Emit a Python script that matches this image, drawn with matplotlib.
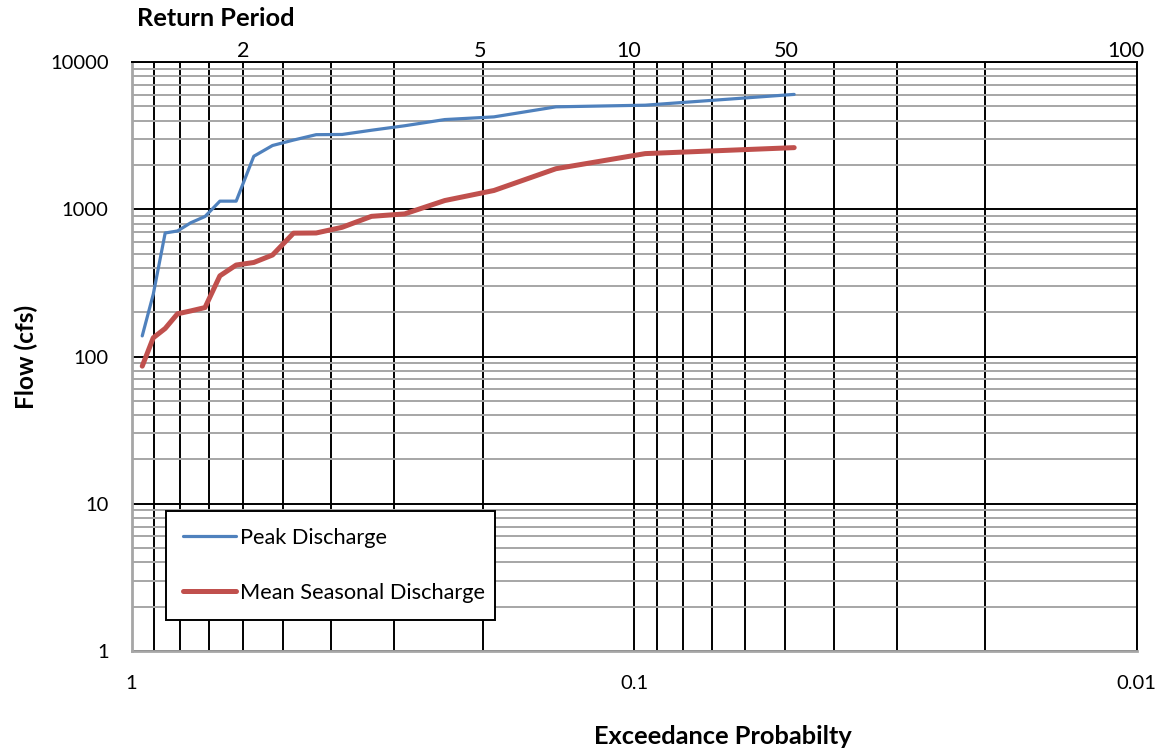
import matplotlib
matplotlib.use("Agg")
import matplotlib.pyplot as plt
import matplotlib.transforms as mtransforms
from matplotlib.ticker import LogLocator, NullFormatter, FixedLocator, FixedFormatter

# ---- data ----
exceed_prob = [0.952, 0.905, 0.857, 0.810, 0.762, 0.714, 0.667, 0.619, 0.571, 0.524,
               0.476, 0.429, 0.381, 0.333, 0.286, 0.238, 0.190, 0.143, 0.095, 0.048]
peak_discharge = [138, 265, 690, 712, 810, 893, 1135, 1135, 2290, 2710,
                  2950, 3210, 3220, 3440, 3690, 4065, 4240, 4960, 5090, 6025]
mean_seasonal = [86, 134, 155, 195, 204, 215, 353, 418, 435, 489,
                 688, 690, 754, 895, 930, 1146, 1341, 1885, 2387, 2621]
series_names = ["Peak Discharge", "Mean Seasonal Discharge"]
x_tick_vals = [1, 0.1, 0.01]
x_tick_labels = ["1", "0.1", "0.01"]
y_tick_vals = [1, 10, 100, 1000, 10000]
y_tick_labels = ["1", "10", "100", "1000", "10000"]
rp_labels = ["2", "5", "10", "50", "100"]
rp_pos = [0.599, 0.2025, 0.1023, 0.0497, 0.0105]

FONT = "Lato"
plt.rcParams["font.family"] = [FONT, "DejaVu Sans"]

W, H = 1162, 751
PX = 72 / 100  # points per pixel at dpi=100
fig = plt.figure(figsize=(W / 100, H / 100), dpi=100)
L, R, T, B = 131.5, 1136.5, 62, 651
ax = fig.add_axes([L / W, 1 - B / H, (R - L) / W, (B - T) / H])

ax.set_xscale("log")
ax.set_yscale("log")
ax.set_xlim(1, 0.01)
ax.set_ylim(1, 10000)

ax.xaxis.set_major_locator(FixedLocator(x_tick_vals))
ax.xaxis.set_major_formatter(FixedFormatter(x_tick_labels))
ax.xaxis.set_minor_locator(LogLocator(base=10, subs=range(2, 10), numticks=20))
ax.xaxis.set_minor_formatter(NullFormatter())
ax.yaxis.set_major_locator(FixedLocator(y_tick_vals))
ax.yaxis.set_major_formatter(FixedFormatter(y_tick_labels))
ax.yaxis.set_minor_locator(LogLocator(base=10, subs=range(2, 10), numticks=20))
ax.yaxis.set_minor_formatter(NullFormatter())

ax.set_axisbelow(True)
ax.yaxis.grid(True, which="minor", color="#A6A6A6", lw=1.4)
ax.yaxis.grid(True, which="major", color="black", lw=1.4)
ax.xaxis.grid(True, which="both", color="black", lw=1.4)

ax.tick_params(which="both", length=0)
ax.tick_params(axis="y", pad=23 * PX, labelsize=14.5)
ax.tick_params(axis="x", pad=24 * PX, labelsize=14.5)

for s in ["left", "bottom"]:
    ax.spines[s].set_color("#A6A6A6")
    ax.spines[s].set_linewidth(2)
for s in ["top", "right"]:
    ax.spines[s].set_color("black")
    ax.spines[s].set_linewidth(1.4)

ax.plot(exceed_prob, peak_discharge, color="#4F81BD", lw=2.3, label=series_names[0],
        solid_joinstyle="round", solid_capstyle="round")
ax.plot(exceed_prob, mean_seasonal, color="#C0504D", lw=3.6, label=series_names[1],
        solid_joinstyle="round", solid_capstyle="round")

lx0, lx1, ly0 = 165.7, 495, 510.7
leg = ax.legend(loc="upper left",
                bbox_to_anchor=((lx0 - L) / (R - L), (B - ly0) / (B - T) - 0.3,
                                (lx1 - lx0) / (R - L), 0.3),
                mode="expand", fontsize=15.7, frameon=True, fancybox=False,
                edgecolor="black", framealpha=1, borderpad=0.78, labelspacing=1.62,
                handlelength=2.45, handletextpad=0.18, borderaxespad=0)
leg.get_frame().set_linewidth(1.4)

# axis titles
fig.text(26 / W, 1 - 356.7 / H, "Flow (cfs)", rotation=90, ha="center", va="center",
         fontsize=17.6, fontweight="bold")
fig.text(722.5 / W, 1 - 736 / H, "Exceedance Probabilty", ha="center", va="center",
         fontsize=18.3, fontweight="bold")
fig.text(215.5 / W, 1 - 18 / H, "Return Period", ha="center", va="center",
         fontsize=18.3, fontweight="bold")

trans = mtransforms.blended_transform_factory(ax.transData, fig.transFigure)
for lab, p in zip(rp_labels, rp_pos):
    ax.text(p, 1 - 57 / H, lab, transform=trans, ha="center", va="baseline",
            fontsize=15.5)

fig.savefig("out.png", dpi=100, facecolor="white")
